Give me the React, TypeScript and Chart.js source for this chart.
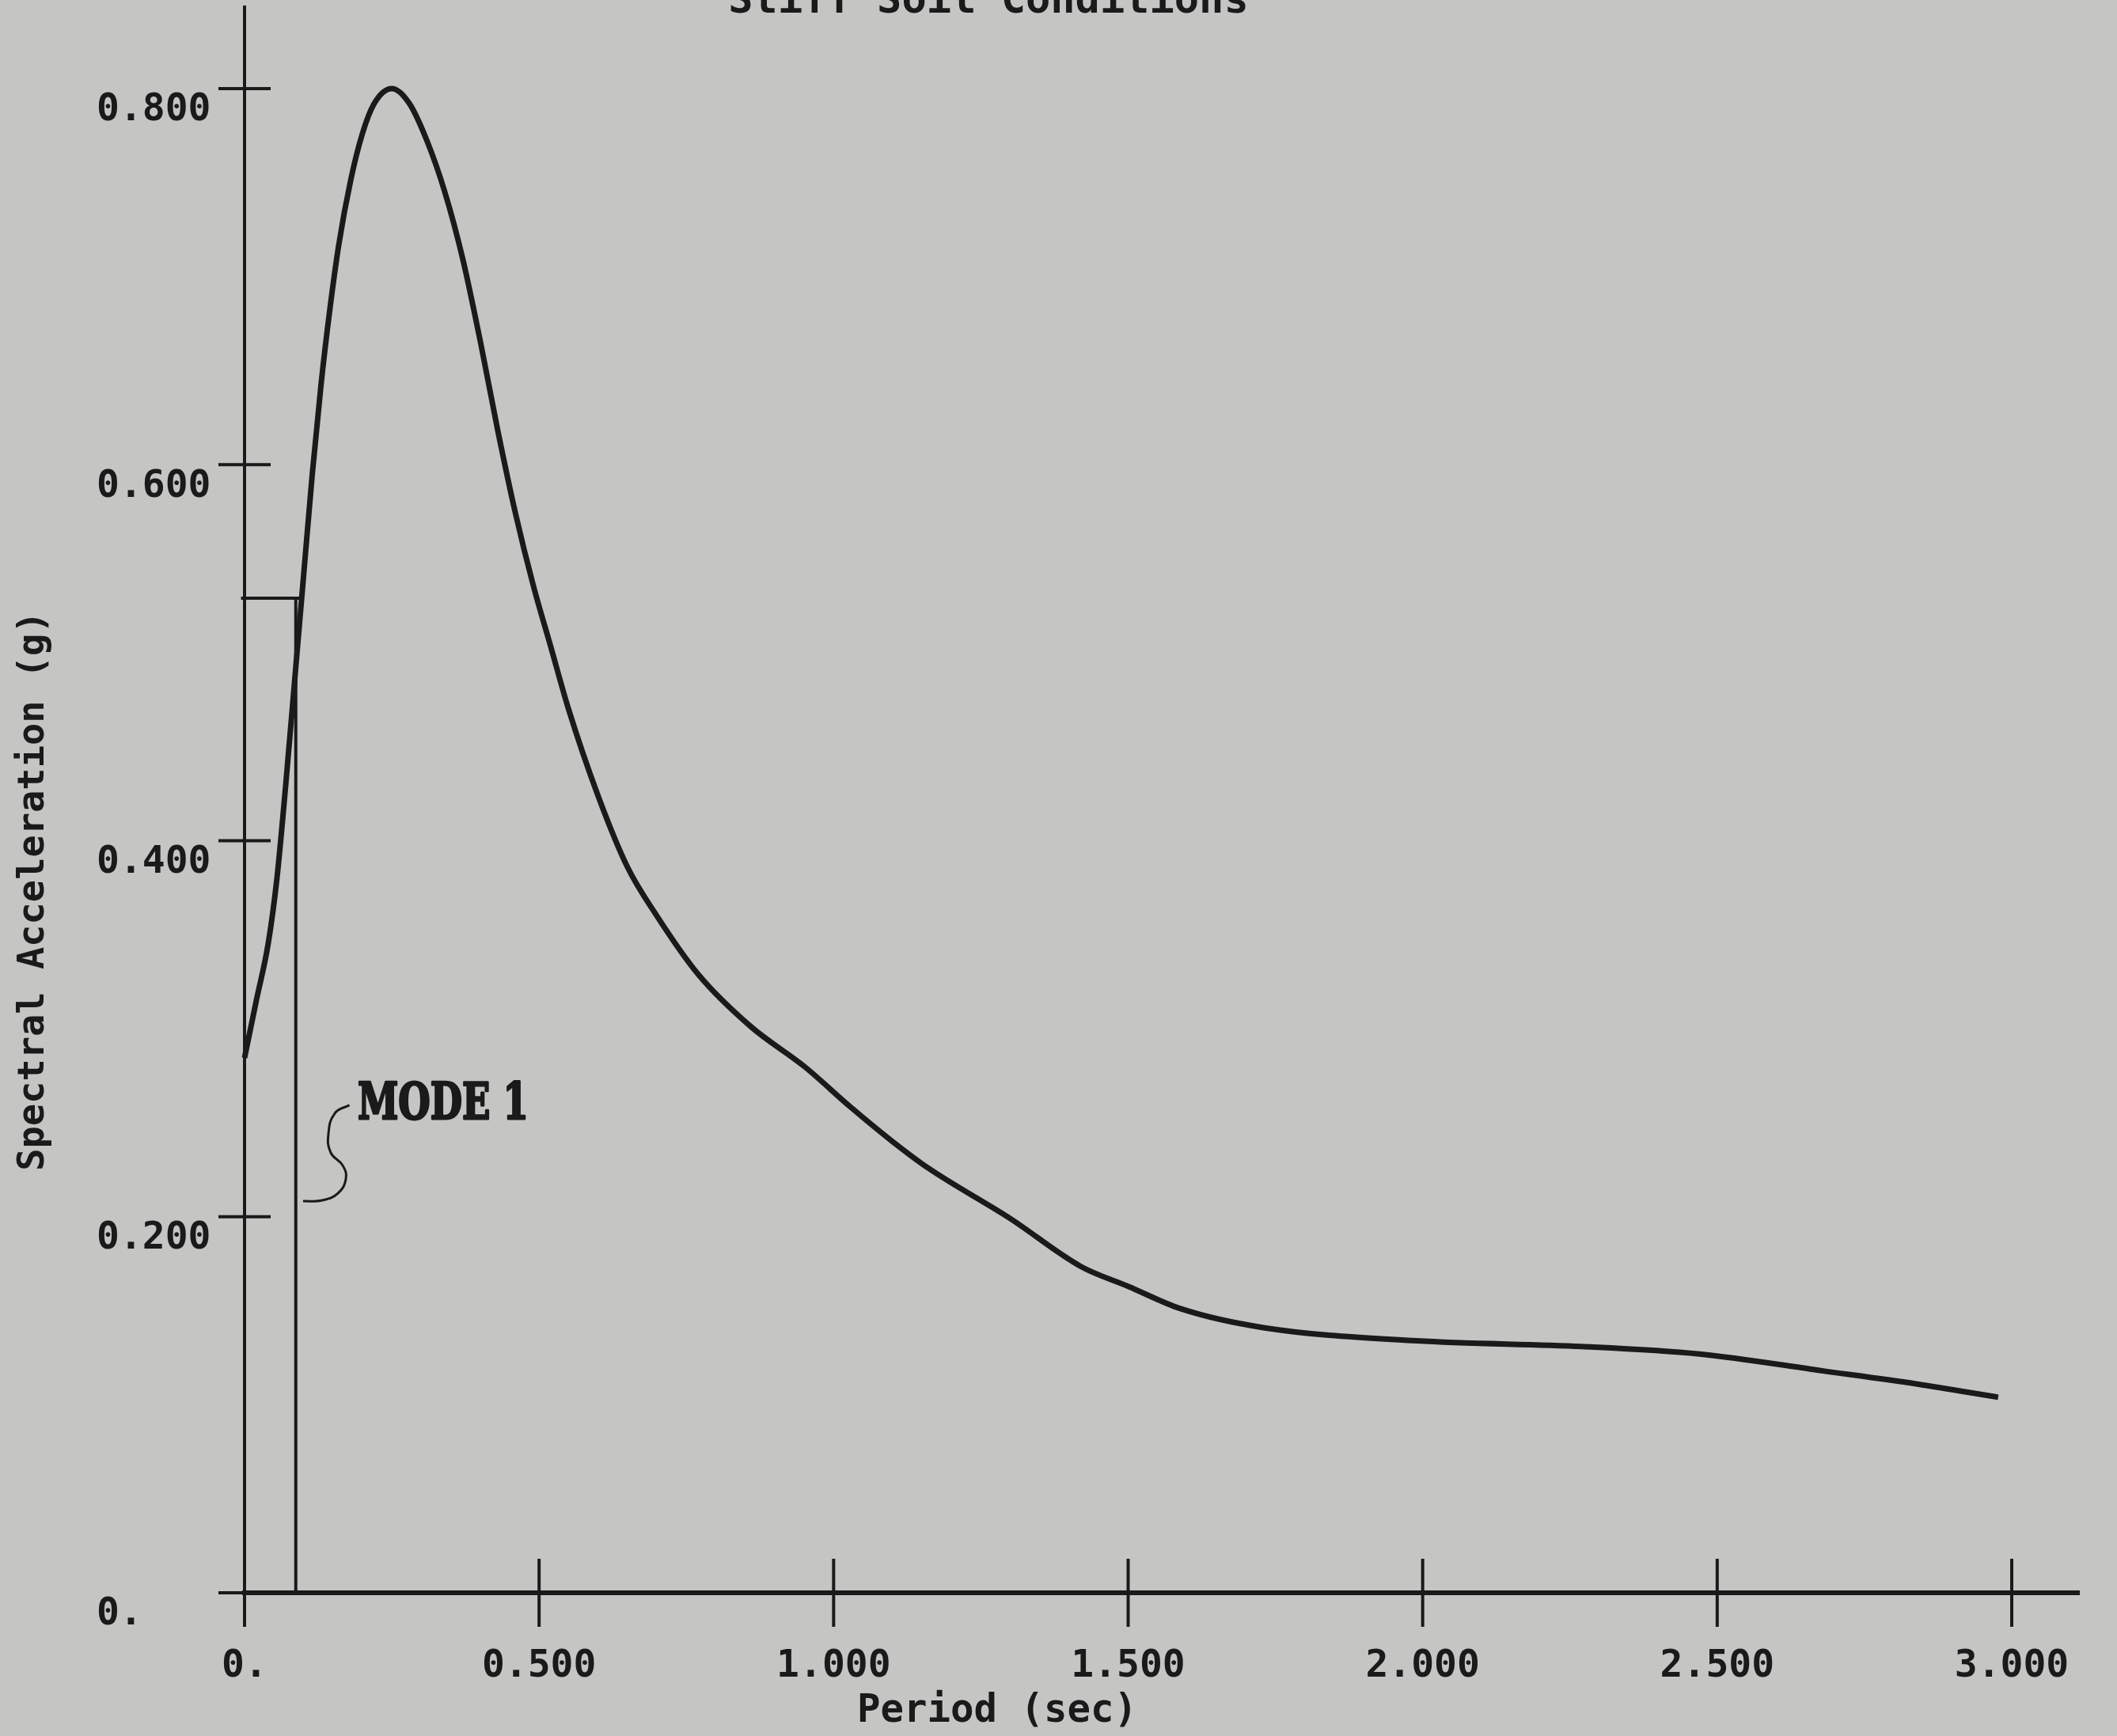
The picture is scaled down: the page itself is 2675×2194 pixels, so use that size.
import React, { useEffect, useRef } from "react";
import { Chart, registerables } from "chart.js";

Chart.register(...registerables);

// ---- data ----
const periods = [
  0, 0.02, 0.04, 0.055, 0.07, 0.085, 0.1, 0.115, 0.13, 0.145, 0.16, 0.18, 0.2, 0.22,
  0.25, 0.28, 0.31, 0.34, 0.37, 0.4, 0.43, 0.46, 0.49, 0.52, 0.55, 0.6, 0.65, 0.7,
  0.77, 0.86, 0.95, 1.03, 1.1, 1.16, 1.3, 1.42, 1.5, 1.59, 1.73, 1.99, 2.27, 2.47,
  2.68, 2.84, 2.977,
];
const accelerations = [
  0.2845, 0.315, 0.345, 0.38, 0.43, 0.485, 0.54, 0.595, 0.643, 0.683, 0.717, 0.751,
  0.776, 0.792, 0.8, 0.792, 0.772, 0.745, 0.71, 0.666, 0.618, 0.574, 0.536, 0.503,
  0.47, 0.424, 0.386, 0.36, 0.329, 0.301, 0.28, 0.258, 0.24, 0.226, 0.199, 0.1735,
  0.163, 0.151, 0.141, 0.134, 0.131, 0.127, 0.118, 0.111, 0.104,
];

const modePeriod = 0.087;
const modeAccel = 0.529;
const modeBarStart = -0.006;
const modeBarEnd = 0.095;

// S-shaped leader from the "MODE 1" label to the mode line (data units)
const leaderPeriods = [0.178, 0.1532, 0.1424, 0.1464, 0.1666, 0.172, 0.1585, 0.1317, 0.0994];
const leaderAccels = [0.2594, 0.255, 0.2441, 0.234, 0.2273, 0.2201, 0.2125, 0.2087, 0.2083];
const modeLabel = "MODE 1";
const modeLabelPeriod = 0.192;
const modeLabelAccel = 0.252;

const xTickValues = [0, 0.5, 1, 1.5, 2, 2.5, 3];
const xTickLabels = ["0.", "0.500", "1.000", "1.500", "2.000", "2.500", "3.000"];
const yTickValues = [0, 0.2, 0.4, 0.6, 0.8];
const yTickLabels = ["0.", "0.200", "0.400", "0.600", "0.800"];

const chartTitle = "Stiff Soil Conditions";
const xTitle = "Period (sec)";
const yTitle = "Spectral Acceleration (g)";

const W = 2675;
const H = 2194;
const BG = "#c5c5c3";
const INK = "#1a1a1a";
const MONO = '"DejaVu Sans Mono", monospace';

const decorPlugin = {
  id: "decor",
  beforeDraw(chart: any) {
    const { ctx } = chart;
    ctx.save();
    ctx.fillStyle = BG;
    ctx.fillRect(0, 0, chart.width, chart.height);
    ctx.restore();
  },
  afterDraw(chart: any) {
    const { ctx } = chart;
    const xs = chart.scales.x;
    const ys = chart.scales.y;
    const x0 = xs.getPixelForValue(0);
    const y0 = ys.getPixelForValue(0);
    ctx.save();
    ctx.strokeStyle = INK;
    ctx.lineCap = "butt";
    // crossing tick marks
    ctx.lineWidth = 4;
    xTickValues.forEach((v) => {
      const px = xs.getPixelForValue(v);
      ctx.beginPath();
      ctx.moveTo(px, y0 - 43);
      ctx.lineTo(px, y0 + 43);
      ctx.stroke();
    });
    yTickValues.forEach((v) => {
      const py = ys.getPixelForValue(v);
      ctx.beginPath();
      ctx.moveTo(x0 - 33, py);
      ctx.lineTo(x0 + 33, py);
      ctx.stroke();
    });

    ctx.fillStyle = INK;
    // chart title (cut off by the top edge)
    ctx.font = `bold 52px ${MONO}`;
    ctx.textAlign = "center";
    ctx.textBaseline = "alphabetic";
    ctx.fillText(chartTitle, 1249, 16);

    // x title
    ctx.font = `bold 49px ${MONO}`;
    ctx.textAlign = "center";
    ctx.textBaseline = "middle";
    ctx.fillText(xTitle, 1260, 2163);

    // y title
    ctx.save();
    ctx.translate(43, 1126);
    ctx.rotate(-Math.PI / 2);
    ctx.font = `bold 47px ${MONO}`;
    ctx.textAlign = "center";
    ctx.textBaseline = "middle";
    ctx.fillText(yTitle, 0, 0);
    ctx.restore();

    // MODE 1 label
    ctx.save();
    ctx.font = 'bold 64px "DejaVu Serif", serif';
    const w = ctx.measureText(modeLabel).width;
    ctx.translate(xs.getPixelForValue(modeLabelPeriod), ys.getPixelForValue(modeLabelAccel));
    ctx.scale(216 / w, 1);
    ctx.textAlign = "left";
    ctx.textBaseline = "alphabetic";
    ctx.lineWidth = 3;
    ctx.lineJoin = "round";
    ctx.strokeText(modeLabel, 0, 0);
    ctx.fillText(modeLabel, 0, 0);
    ctx.restore();

    ctx.restore();
  },
};

export default function App() {
  const ref = useRef<HTMLCanvasElement | null>(null);

  useEffect(() => {
    document.body.style.margin = "0";
    document.body.style.background = BG;
    const canvas = ref.current;
    if (!canvas) return;

    const curve = periods.map((p, i) => ({ x: p, y: accelerations[i] }));
    const leader = leaderPeriods.map((p, i) => ({ x: p, y: leaderAccels[i] }));

    const tickFont = { family: MONO, size: 48, weight: "bold" as const };

    const chart = new Chart(canvas, {
      type: "line",
      data: {
        datasets: [
          {
            data: curve,
            borderColor: INK,
            borderWidth: 7,
            cubicInterpolationMode: "monotone",
            pointRadius: 0,
            fill: false,
            clip: false as any,
          },
          {
            data: [
              { x: modePeriod, y: 0 },
              { x: modePeriod, y: modeAccel },
            ],
            borderColor: INK,
            borderWidth: 4,
            pointRadius: 0,
            tension: 0,
            clip: false as any,
          },
          {
            data: [
              { x: modeBarStart, y: modeAccel },
              { x: modeBarEnd, y: modeAccel },
            ],
            borderColor: INK,
            borderWidth: 4,
            pointRadius: 0,
            tension: 0,
            clip: false as any,
          },
          {
            data: leader,
            borderColor: INK,
            borderWidth: 3,
            pointRadius: 0,
            tension: 0.45,
            clip: false as any,
          },
        ],
      },
      options: {
        responsive: false,
        maintainAspectRatio: false,
        animation: false,
        devicePixelRatio: 1,
        layout: { padding: { left: 122, top: 8.5, right: 48, bottom: 0 } },
        plugins: {
          legend: { display: false },
          title: { display: false },
          tooltip: { enabled: false },
        },
        elements: { point: { radius: 0 } },
        scales: {
          x: {
            type: "linear",
            min: 0,
            max: 3.1142,
            grid: { display: false },
            border: { display: true, color: INK, width: 6 },
            ticks: {
              font: tickFont,
              color: INK,
              padding: 57,
              maxRotation: 0,
              minRotation: 0,
              autoSkip: false,
              includeBounds: false,
              callback: (_v: any, i: number) => xTickLabels[i],
            },
            afterBuildTicks: (s: any) => {
              s.ticks = xTickValues.map((v) => ({ value: v }));
            },
            afterFit: (s: any) => {
              s.height = H - 2013;
              s.paddingLeft = 0;
              s.paddingRight = 0;
              s.paddingTop = 0;
              s.paddingBottom = 0;
            },
          },
          y: {
            type: "linear",
            min: 0,
            max: 0.84355,
            grid: { display: false },
            border: { display: true, color: INK, width: 4 },
            ticks: {
              font: tickFont,
              color: INK,
              padding: 43,
              crossAlign: "far",
              labelOffset: 28,
              autoSkip: false,
              includeBounds: false,
              callback: (_v: any, i: number) => yTickLabels[i],
            },
            afterBuildTicks: (s: any) => {
              s.ticks = yTickValues.map((v) => ({ value: v }));
            },
            afterFit: (s: any) => {
              s.width = 187;
              s.paddingLeft = 0;
              s.paddingRight = 0;
              s.paddingTop = 0;
              s.paddingBottom = 0;
            },
          },
        },
      },
      plugins: [decorPlugin],
    });

    return () => chart.destroy();
  }, []);

  return (
    <div style={{ position: "absolute", left: 0, top: 0, width: W, height: H }}>
      <canvas ref={ref} width={W} height={H} style={{ display: "block", width: W, height: H }} />
    </div>
  );
}
